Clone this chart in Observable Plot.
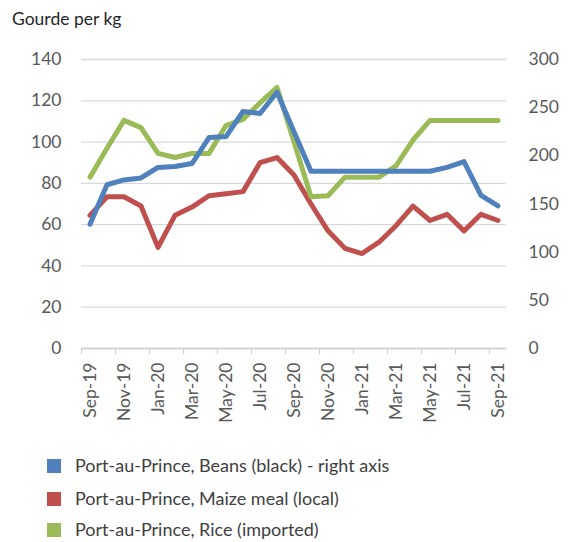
<!DOCTYPE html>
<html>
<head>
<meta charset="utf-8">
<script src="https://cdn.jsdelivr.net/npm/d3@7"></script>
<script src="https://cdn.jsdelivr.net/npm/@observablehq/plot@0.6"></script>
<style>
  body { margin: 0; background: #fff; }
  #wrap { position: relative; width: 568px; height: 542px; font-family: "Lato", sans-serif; overflow: hidden; }
  #title { position: absolute; left: 12px; top: 8px; font-size: 17.5px; color: #262626; line-height: 22px; white-space: nowrap; }
  #chart { position: absolute; left: 0; top: 0; }
  .leg { position: absolute; left: 47px; font-size: 18px; color: #404040; line-height: 20px; white-space: nowrap; }
  .leg span.sw { display: inline-block; width: 14px; height: 14px; vertical-align: -1px; margin-right: 14px; }
</style>
</head>
<body>
<div id="wrap">
  <div id="chart"></div>
  <div id="title">Gourde per kg</div>
  <div id="legend"></div>
</div>
<script>
const months = ["Sep-19","Oct-19","Nov-19","Dec-19","Jan-20","Feb-20","Mar-20","Apr-20","May-20","Jun-20","Jul-20","Aug-20","Sep-20","Oct-20","Nov-20","Dec-20","Jan-21","Feb-21","Mar-21","Apr-21","May-21","Jun-21","Jul-21","Aug-21","Sep-21"];
// right axis (Gourde per kg)
const beans = [129,170,175,177,188,189,192,219,220,246,244,266,225,184,184,184,184,184,184,184,184,188,194,159,148];
// left axis
const maize = [64.5,73.5,73.5,69,49,64.5,68.5,74,75,76,90,92.5,84,70,57,48.5,46,51.5,59.5,69,62,65,57,65,62];
const rice = [83,97,110.5,107,94.5,92.5,94.5,94.5,108,111,119,126.5,100,73.5,74,83,83,83,88.5,101,110.5,110.5,110.5,110.5,110.5];
const leftTicks = [0,20,40,60,80,100,120,140];
const rightTicks = [0,50,100,150,200,250,300];
const seriesNames = ["Port-au-Prince, Beans (black) - right axis","Port-au-Prince, Maize meal (local)","Port-au-Prince, Rice (imported)"];
const colors = ["#4F81BD","#C0504D","#9BBB59"];

const k = 140 / 300; // right-axis value -> left-axis units
const rows = (arr, f) => arr.map((v, i) => ({i, v: v * f}));
const boundaries = d3.range(-0.5, 24, 2);
const labelIdx = d3.range(0, 25, 2);

const lineOpts = (c) => ({x: "i", y: "v", stroke: c, strokeWidth: 5, strokeLinejoin: "round", strokeLinecap: "round"});

const chart = Plot.plot({
  width: 568, height: 440,
  marginLeft: 81, marginRight: 62, marginTop: 59, marginBottom: 92,
  style: {fontFamily: "Lato, sans-serif", fontSize: "17.5px", background: "transparent", overflow: "visible"},
  x: {domain: [-0.5, 24.5], label: null},
  y: {domain: [0, 140], label: null},
  marks: [
    Plot.gridY(leftTicks, {stroke: "#d9d9d9", strokeOpacity: 1, strokeWidth: 1.3}),
    Plot.ruleY([0], {stroke: "#cfcfcf", strokeWidth: 1.3}),
    Plot.axisY(leftTicks, {anchor: "left", tickSize: 0, tickPadding: 20, color: "#595959", label: null}),
    Plot.axisY(rightTicks.map(v => v * k), {anchor: "right", tickSize: 0, tickPadding: 22, color: "#595959", label: null, tickFormat: d => String(Math.round(d / k))}),
    Plot.axisX(boundaries, {anchor: "bottom", tickSize: 6, color: "#cfcfcf", tickFormat: () => "", label: null}),
    Plot.axisX(labelIdx, {anchor: "bottom", tickSize: 0, tickPadding: 14, tickRotate: -90, color: "#595959", label: null, tickFormat: i => months[i]}),
    Plot.line(rows(maize, 1), lineOpts(colors[1])),
    Plot.line(rows(rice, 1), lineOpts(colors[2])),
    Plot.line(rows(beans, k), lineOpts(colors[0]))
  ]
});
document.getElementById("chart").appendChild(chart);

const legend = document.getElementById("legend");
const tops = [455, 488, 519];
seriesNames.forEach((name, j) => {
  const d = document.createElement("div");
  d.className = "leg";
  d.style.top = tops[j] + "px";
  d.innerHTML = `<span class="sw" style="background:${colors[j]}"></span>${name}`;
  legend.appendChild(d);
});
</script>
</body>
</html>
